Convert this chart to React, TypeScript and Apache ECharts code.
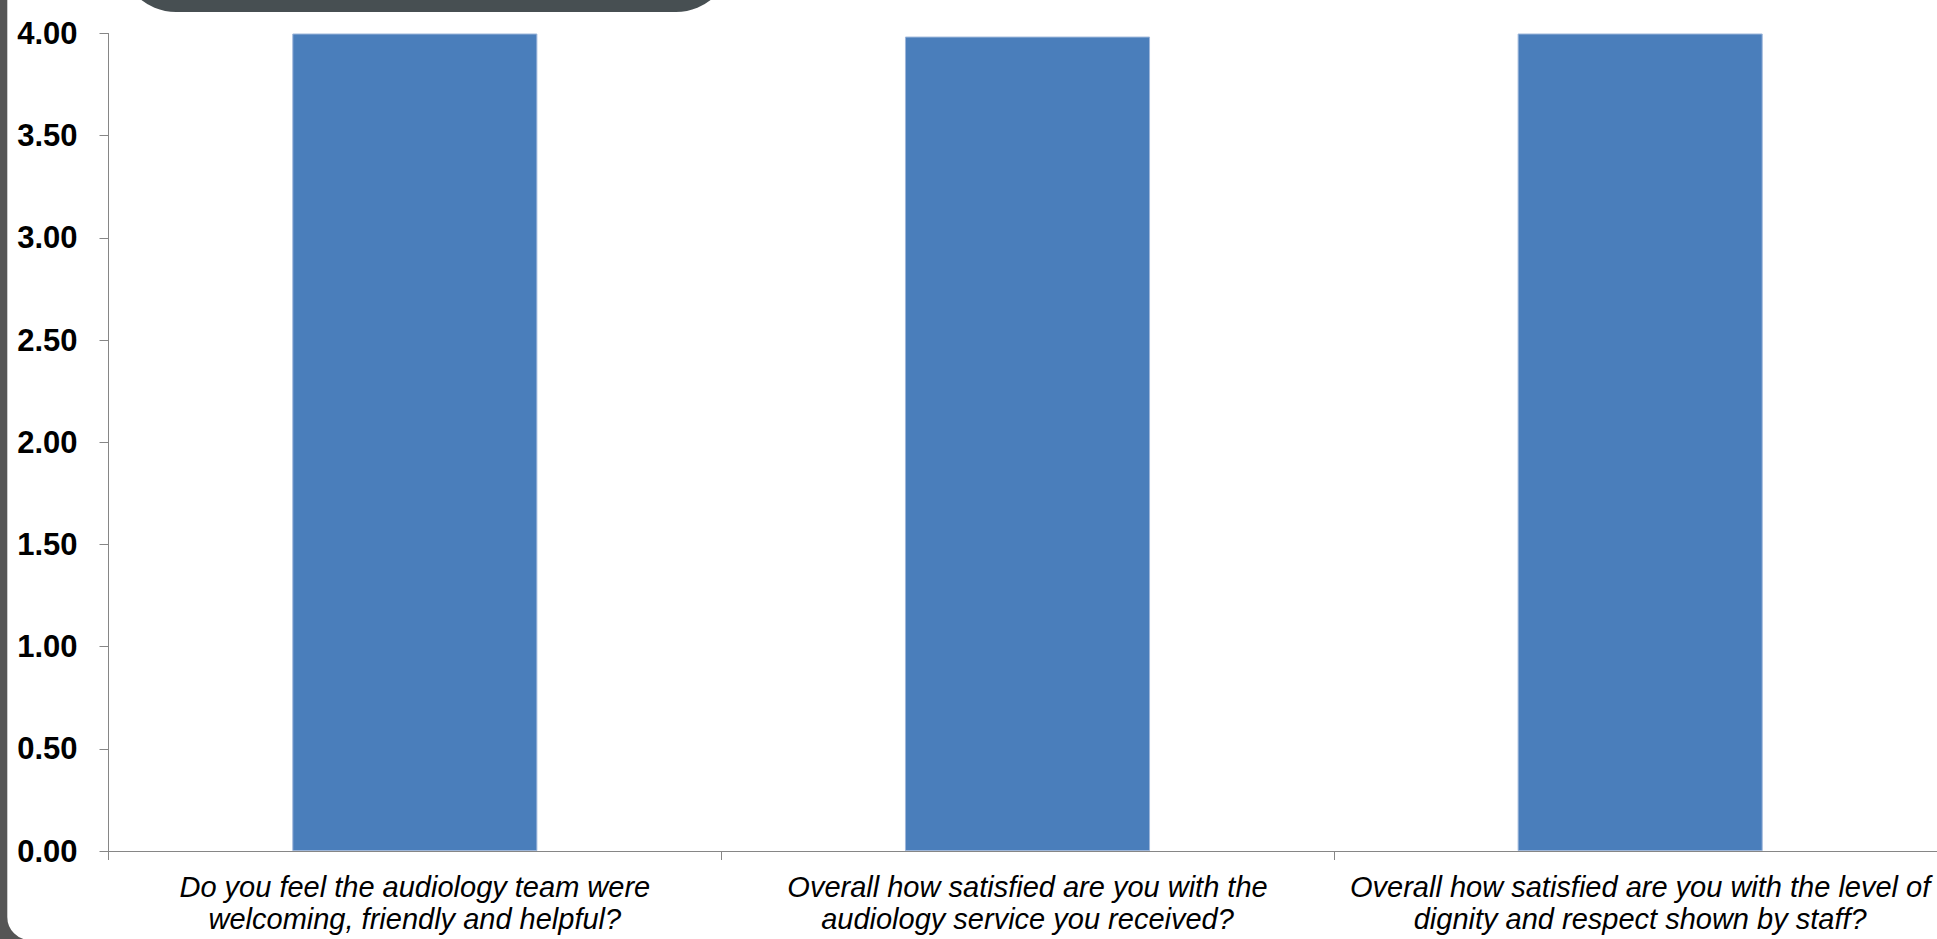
import React, { useEffect, useRef } from "react";
import * as echarts from "echarts";

const categories = [
  "Do you feel the audiology team were\nwelcoming, friendly and helpful?",
  "Overall how satisfied are you with the\naudiology service you received?",
  "Overall how satisfied are you with the level of\ndignity and respect shown by staff?",
];
const scores = [4.0, 3.985, 4.0];
const yMin = 0;
const yMax = 4;
const yStep = 0.5;

export default function App() {
  const ref = useRef<HTMLDivElement>(null);
  useEffect(() => {
    if (!ref.current) return;
    const chart = echarts.init(ref.current, undefined, { renderer: "svg" });
    chart.setOption({
      animation: false,
      backgroundColor: "#ffffff",
      grid: { left: 108.5, top: 33.5, width: 1838, height: 817.5, containLabel: false },
      xAxis: {
        type: "category",
        data: categories,
        axisLine: { show: true, lineStyle: { color: "#868686", width: 1 } },
        axisTick: { show: true, length: 9, lineStyle: { color: "#868686" } },
        axisLabel: {
          interval: 0,
          margin: 19.5,
          color: "#000000",
          fontFamily: "Liberation Sans, Arial, sans-serif",
          fontStyle: "italic",
          fontSize: 29,
          lineHeight: 32.5,
          align: "center",
        },
        splitLine: { show: false },
      },
      yAxis: {
        type: "value",
        min: yMin,
        max: yMax,
        interval: yStep,
        axisLine: { show: true, lineStyle: { color: "#868686", width: 1 } },
        axisTick: { show: true, length: 9, lineStyle: { color: "#868686" } },
        axisLabel: {
          margin: 31,
          color: "#000000",
          fontFamily: "Liberation Sans, Arial, sans-serif",
          fontWeight: "bold",
          fontSize: 31,
          formatter: (v: number) => v.toFixed(2),
        },
        splitLine: { show: false },
      },
      series: [
        {
          type: "bar",
          data: scores,
          barWidth: "40%",
          itemStyle: { color: "#4A7EBB", borderColor: "#9DB6DA", borderWidth: 1 },
        },
      ],
      graphic: [
        {
          type: "rect",
          silent: true,
          shape: { x: -0.7, y: -100, width: 2200, height: 1048, r: 31 },
          style: { fill: "none", stroke: "#555555", lineWidth: 16 },
          z: 100,
        },
        {
          type: "rect",
          silent: true,
          shape: { x: 120, y: -100, width: 612, height: 112, r: 60 },
          style: { fill: "#474F52" },
          z: 100,
        },
      ],
    });
    return () => chart.dispose();
  }, []);
  return (
    <div
      style={{
        position: "absolute",
        left: 0,
        top: 0,
        width: 1937,
        height: 939,
        overflow: "hidden",
      }}
    >
      <div ref={ref} style={{ width: 1980, height: 939 }} />
    </div>
  );
}
